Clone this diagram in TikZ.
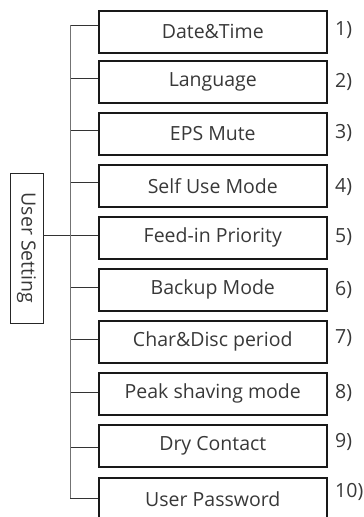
\documentclass[tikz,border=0pt]{standalone}
\usepackage{fontspec}
\setmainfont{Open Sans}
\begin{document}
\begin{tikzpicture}[x=1pt,y=-1pt,
  itembox/.style={draw=black!90, line width=1.6pt, minimum width=228pt, minimum height=42pt, inner sep=0pt, anchor=north west, font=\fontsize{19.5}{22}\selectfont, text=black!78},
  numlbl/.style={anchor=west, inner sep=0pt, font=\fontsize{19.5}{22}\selectfont, text=black!78},
  trunk/.style={draw=black!55, line width=0.8pt},
  branch/.style={draw=black!80, line width=0.7pt},
  rootbox/.style={draw=black!85, line width=0.8pt, minimum width=150pt, minimum height=33pt, inner sep=0pt, rotate=-90, font=\fontsize{19.5}{22}\selectfont, text=black!78}]
\useasboundingbox (0,0) rectangle (364,517);
\node[rootbox] (root) at (26.5,248) {User Setting};
\node[itembox] (b1) at (98,10) {Date\&Time};
\node[itembox] (b2) at (98,60) {Language};
\node[itembox] (b3) at (98,112) {EPS Mute};
\node[itembox] (b4) at (98,164) {Self Use Mode};
\node[itembox] (b5) at (98,216) {Feed-in Priority};
\node[itembox] (b6) at (98,268) {Backup Mode};
\node[itembox] (b7) at (98,320) {Char\&Disc period};
\node[itembox] (b8) at (98,372) {Peak shaving mode};
\node[itembox] (b9) at (98,424) {Dry Contact};
\node[itembox] (b10) at (98,477) {User Password};
\foreach \i/\y/\ny in {1/25/30,2/78/82,3/130/133,4/182/187,5/235/237,6/287/290,7/339/338,8/392/393,9/447/442,10/498/492}{
  \coordinate (j\i) at (70,\y);
  \node[numlbl] (n\i) at (335,\ny) {\i)};
  \draw[branch] (j\i) -- (b\i.west |- j\i);
}
\draw[trunk] (j1) -- (j10);
\draw[branch] (root.north |- j5) -- (j5);
\end{tikzpicture}
\end{document}
